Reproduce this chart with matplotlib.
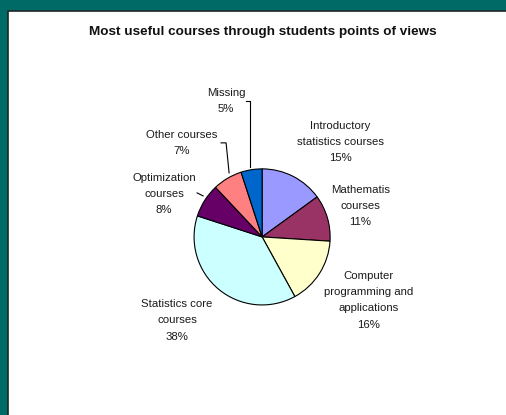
import matplotlib.pyplot as plt
from matplotlib.patches import Rectangle

plt.rcParams['font.family'] = ['Liberation Sans', 'DejaVu Sans']

courses = ["Introductory\nstatistics courses", "Mathematis\ncourses",
           "Computer\nprogramming and\napplications", "Statistics core\ncourses",
           "Optimization\ncourses", "Other courses", "Missing"]
shares = [15, 11, 16, 38, 8, 7, 5]
colors = ["#9999ff", "#993366", "#ffffcc", "#ccffff", "#660066", "#ff8080", "#0066cc"]

# page layout in pixels (origin top-left)
W, H = 506, 415
CX, CY, R = 262, 237, 68
label_pos = [(340, 142), (360, 206), (368, 300), (177, 320), (164, 194), (182, 143), (226, 101)]
leaders = [
    [(246, 101), (250, 101), (250, 167)],
    [(221, 143), (226, 143), (229, 173)],
    [(197, 193), (203, 196)],
]
TEAL = "#006a66"


def px(x, y):
    return (x - CX) / R, (CY - y) / R


fig = plt.figure(figsize=((W + 0.2) / 100, (H + 0.2) / 100), dpi=100, facecolor="white")

# slide frame: teal strips on the left and top, dark edge round the white panel
left, top = 8 / W, 1 - 11 / H
fig.patches.append(Rectangle((0, 0), left, 1, transform=fig.transFigure,
                             facecolor=TEAL, edgecolor="none", zorder=-10))
fig.patches.append(Rectangle((0, top), 1, 1 - top, transform=fig.transFigure,
                             facecolor=TEAL, edgecolor="none", zorder=-10))
fig.lines.append(plt.Line2D([left, left, 1], [0, top, top], transform=fig.transFigure,
                            color="#1c2626", linewidth=1.2, zorder=-9))

ax = fig.add_axes([0, 0, 1, 1])
ax.pie(shares, colors=colors, startangle=90, counterclock=False, radius=1,
       wedgeprops=dict(edgecolor="black", linewidth=0.8))
ax.set_xlim(-CX / R, (W - CX) / R)
ax.set_ylim((CY - H) / R, CY / R)
ax.set_aspect("auto")
ax.axis("off")

for name, val, (x, y) in zip(courses, shares, label_pos):
    ax.text(*px(x, y), f"{name}\n{val}%", ha="center", va="center",
            multialignment="center", fontsize=8.2, color="#1a1a1a", linespacing=1.8)

for pts in leaders:
    xs, ys = zip(*[px(x, y) for x, y in pts])
    ax.plot(xs, ys, color="black", linewidth=0.8)

ax.text(*px(263, 32), "Most useful courses through students points of views",
        ha="center", va="center", fontsize=9.7, fontweight="bold", color="#111111")

fig.savefig("out.png", dpi=100, facecolor=fig.get_facecolor())
